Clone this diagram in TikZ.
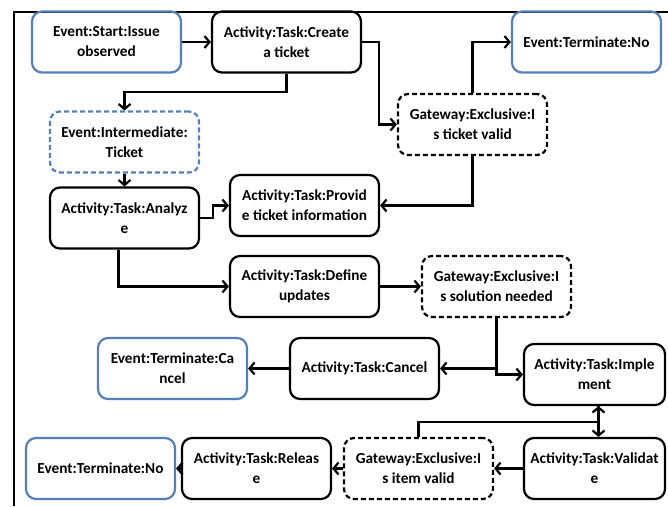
\documentclass[tikz,border=0pt]{standalone}
\usepackage{fontspec}
\setmainfont{Carlito}
\usetikzlibrary{arrows.meta}
\definecolor{evblue}{RGB}{84,128,186}
\tikzset{
  x=1pt, y=-1pt,
  box/.style={draw, line width=2.2pt, rounded corners=10pt, minimum width=149pt,
    minimum height=61pt, inner sep=2pt, align=center,
    font=\fontsize{15.3}{20}\selectfont\bfseries},
  taskbox/.style={box, draw=black},
  eventbox/.style={box, draw=evblue},
  interbox/.style={box, draw=evblue, dash pattern=on 5pt off 3pt},
  gatebox/.style={box, draw=black, dash pattern=on 5pt off 3pt},
  arr/.style={line width=2.2pt, -{Straight Barb[length=5pt,width=12pt]}},
}
\begin{document}
\begin{tikzpicture}
\useasboundingbox (0,0) rectangle (668,506);
% frame
\draw[line width=2pt] (668,12) -- (14,12) -- (14,506);

% nodes
\node[eventbox] (start) at (106.5,42) {Event:Start:Issue\\observed};
\node[taskbox] (create) at (286.5,42) {Activity:Task:Create\\a ticket};
\node[eventbox] (termno) at (586.5,42) {Event:Terminate:No};
\node[gatebox] (gwticket) at (472.5,124.5) {Gateway:Exclusive:I\\s ticket valid};
\node[interbox] (inter) at (124.5,142) {Event:Intermediate:\\Ticket};
\node[taskbox] (analyze) at (124.5,218) {Activity:Task:Analyz\\e};
\node[taskbox] (provide) at (304.5,205.5) {Activity:Task:Provid\\e ticket information};
\node[taskbox] (define) at (304.5,286.5) {Activity:Task:Define\\updates};
\node[gatebox] (gwsol) at (496.5,286.5) {Gateway:Exclusive:I\\s solution needed};
\node[eventbox] (termcancel) at (172.5,368.5) {Event:Terminate:Ca\\ncel};
\node[taskbox] (cancel) at (364.5,368.5) {Activity:Task:Cancel};
\node[taskbox, minimum width=141pt] (implement) at (594.5,374.5) {Activity:Task:Imple\\ment};
\node[eventbox] (termno2) at (100.5,468.5) {Event:Terminate:No};
\node[taskbox] (release) at (256.5,468.5) {Activity:Task:Releas\\e};
\node[gatebox] (gwitem) at (418.5,468.5) {Gateway:Exclusive:I\\s item valid};
\node[taskbox, minimum width=141pt] (validate) at (594.5,468.5) {Activity:Task:Validat\\e};

% connectors
\draw[arr] (start) -- (create);
\draw[arr] (create.south) -- ++(0,18) -| (inter.north);
\draw[arr] (create.east) -- ++(17,0) |- (gwticket.west);
\draw[arr] (gwticket.north) |- (termno.west);
\draw[arr] (gwticket.south) |- (provide.east);
\draw[arr] (inter) -- (analyze);
\draw[arr] (analyze.east) -- ++(13,0) |- (provide.west);
\draw[arr] ([xshift=-6pt]analyze.south) |- (define.west);
\draw[arr] (define) -- (gwsol);
\draw[arr] (gwsol.south) |- (cancel.east);
\draw[arr] (gwsol.south) |- (implement.west);
\draw[arr] (cancel) -- (termcancel);
\draw[arr] ([xshift=4pt]implement.south) -- ([xshift=4pt]validate.north);
\draw[arr] (gwitem.north) -- ++(0,-15) -| ([xshift=4pt]implement.south);
\draw[arr] (validate) -- (gwitem);
\draw[arr] (gwitem) -- (release);
\draw[arr] (release) -- (termno2);
\end{tikzpicture}
\end{document}
